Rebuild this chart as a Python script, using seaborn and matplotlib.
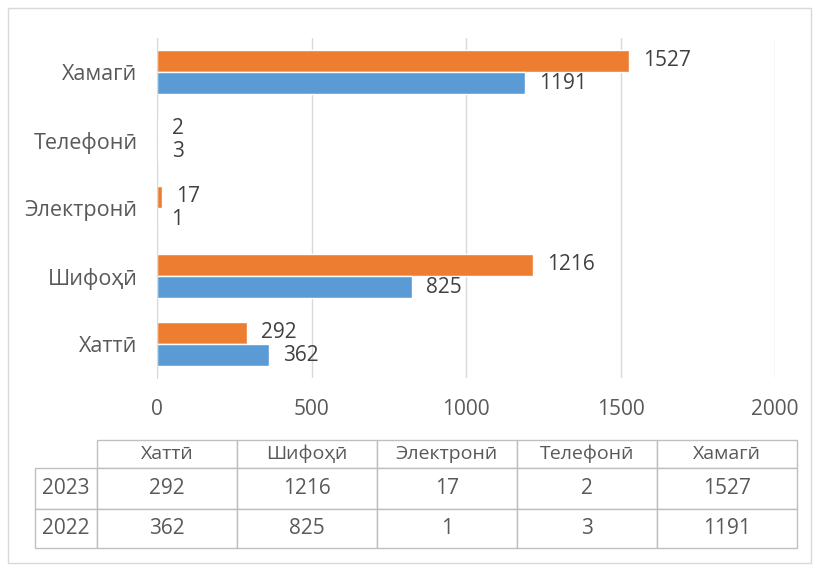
import matplotlib
matplotlib.use("Agg")
import matplotlib.pyplot as plt
import seaborn as sns
import pandas as pd
from matplotlib.patches import Rectangle

categories = ['Хаттӣ', 'Шифоҳӣ', 'Электронӣ', 'Телефонӣ', 'Хамагӣ']
vals_2023 = [292, 1216, 17, 2, 1527]
vals_2022 = [362, 825, 1, 3, 1191]
years = ['2023', '2022']
xticks = [0, 500, 1000, 1500, 2000]

orange = '#ED7D31'
blue = '#5B9BD5'
txt = '#595959'

sns.set_style('white')
plt.rcParams['font.family'] = ['Open Sans', 'DejaVu Sans']

df = pd.DataFrame({
    'cat': categories * 2,
    'year': ['2023'] * 5 + ['2022'] * 5,
    'val': vals_2023 + vals_2022,
})

fig = plt.figure(figsize=(8.19, 5.71), dpi=100)
W, H = 819, 571

# outer chart frame
fig.patches.append(Rectangle((8 / W, 8 / H), (811 - 8) / W, (563 - 8) / H,
                             transform=fig.transFigure, fill=False,
                             edgecolor='#d9d9d9', linewidth=1))

ax = fig.add_axes([157 / W, 1 - 378 / H, (775 - 157) / W, (378 - 38) / H])
order = categories[::-1]
sns.barplot(data=df, y='cat', x='val', hue='year', order=order,
            hue_order=years, palette=[orange, blue], width=0.66,
            orient='h', saturation=1, legend=False, ax=ax)

for cont in ax.containers:
    ax.bar_label(cont, padding=10, fontsize=15, color='#404040')

ax.set_xlim(0, 2000)
ax.set_xticks(xticks)
ax.grid(axis='x', color='#d9d9d9', linewidth=1)
ax.set_axisbelow(True)
ax.set_xlabel('')
ax.set_ylabel('')
for s in ['top', 'right', 'bottom']:
    ax.spines[s].set_visible(False)
ax.spines['left'].set_color('#d9d9d9')
ax.tick_params(axis='x', length=0, pad=15, labelsize=15, labelcolor=txt)
ax.tick_params(axis='y', length=0, pad=14, labelsize=15.5, labelcolor=txt)

# data table
tax = fig.add_axes([35 / W, 1 - 548 / H, (797 - 35) / W, (548 - 440) / H])
tax.axis('off')
cell_text = [[''] + categories,
             ['2023'] + [str(v) for v in vals_2023],
             ['2022'] + [str(v) for v in vals_2022]]
widths = [62] + [140] * 5
tot = sum(widths)
tbl = tax.table(cellText=cell_text, cellLoc='center', bbox=[0, 0, 1, 1],
                colWidths=[w / tot for w in widths])
tbl.auto_set_font_size(False)
heights = [28, 41, 39]
for (r, c), cell in tbl.get_celld().items():
    cell.set_height(heights[r] / sum(heights))
    cell.set_edgecolor('#bfbfbf')
    cell.set_linewidth(1)
    cell.get_text().set_color(txt)
    cell.get_text().set_fontsize(14 if r == 0 else 15)
    if r == 0 and c == 0:
        cell.visible_edges = ''

fig.savefig('out.png', dpi=100)
